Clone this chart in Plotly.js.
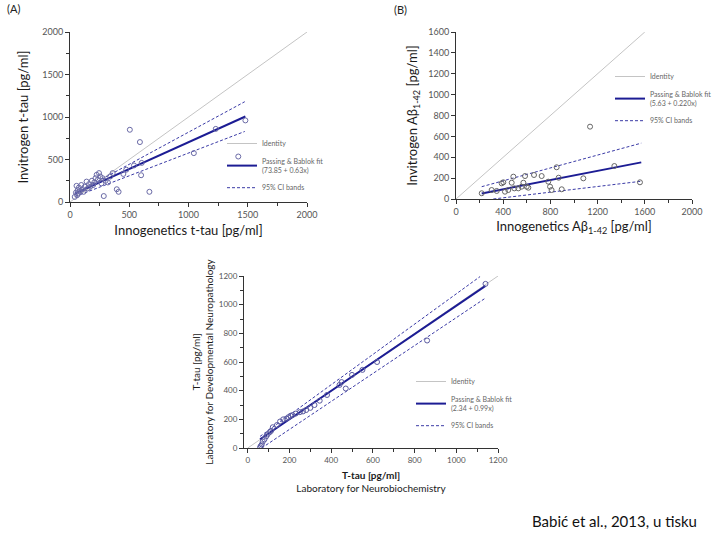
<!DOCTYPE html>
<html>
<head>
<meta charset="utf-8">
<script src="https://cdn.plot.ly/plotly-3.0.1.min.js"></script>
<style>html,body{margin:0;padding:0;background:#fff;}#chart{width:720px;height:540px;}</style>
</head>
<body>
<div id="chart"></div>
<script>
// ---------- Panel A: t-tau, Invitrogen vs Innogenetics ----------
const A_x = [40, 50, 55, 60, 65, 70, 75, 85, 95, 105, 115, 125, 140, 150, 160, 170, 185, 195, 205, 215, 225, 235, 245, 255, 265, 275, 285, 300, 320, 340, 360, 395, 410, 450, 475, 505, 540, 590, 600, 605, 670, 1045, 1230, 1420, 1480];
const A_y = [60, 110, 190, 80, 140, 100, 170, 130, 200, 150, 120, 180, 240, 160, 210, 180, 250, 200, 230, 280, 320, 260, 340, 300, 220, 280, 70, 250, 230, 300, 340, 150, 120, 330, 380, 850, 430, 705, 315, 460, 120, 575, 860, 535, 960];
const A_identity = [0, 2000];
const A_fitCoef = [73.85, 0.63];
const A_fitX = [40, 1480];
const A_ciX = [45, 1475];
const A_ciUp = [100, 1180];
const A_ciLo = [65, 830];
const A_fitLabel = "Passing & Bablok fit<br>(73.85 + 0.63x)";

// ---------- Panel B: Abeta1-42 ----------
const B_x = [218, 302, 345, 387, 401, 415, 443, 472, 486, 494, 528, 556, 571, 585, 599, 613, 661, 726, 782, 797, 810, 853, 870, 896, 1079, 1136, 1342, 1559];
const B_y = [55, 86, 77, 150, 160, 70, 86, 156, 214, 102, 102, 118, 156, 220, 118, 108, 230, 220, 166, 118, 86, 304, 204, 93, 198, 693, 316, 160];
const B_identity = [0, 1600];
const B_fitCoef = [5.63, 0.22];
const B_fitX = [218, 1570];
const B_ciUpX = [218, 1570];
const B_ciUp = [118, 535];
const B_ciLoX = [316, 1570];
const B_ciLo = [0, 170];
const B_fitLabel = "Passing & Bablok fit<br>(5.63 + 0.220x)";

// ---------- Panel C: T-tau, two laboratories ----------
const C_x = [59, 63, 67, 72, 80, 88, 95, 105, 112, 120, 140, 155, 170, 185, 195, 205, 215, 230, 250, 265, 280, 300, 320, 345, 380, 440, 450, 470, 500, 550, 620, 860, 1140];
const C_y = [5, 15, 25, 45, 60, 80, 95, 110, 120, 145, 160, 185, 200, 205, 215, 225, 230, 240, 250, 255, 265, 280, 300, 330, 370, 440, 460, 415, 510, 545, 600, 750, 1145];
const C_identity = [0, 1200];
const C_fitCoef = [2.34, 0.99];
const C_fitX = [59, 1140];
const C_ciUpX = [59, 1114];
const C_ciUp = [81, 1196];
const C_ciLoX = [67, 1140];
const C_ciLo = [0, 1046];
const C_fitLabel = "Passing & Bablok fit<br>(2.34 + 0.99x)";

const FONT = "Lato, 'Open Sans', sans-serif";
const fitColor = "#1c1c94";
const ciColor = "#3a3aa6";
const idColor = "#c4c4c4";

function fitY(xs, c) { return xs.map(x => c[0] + c[1] * x); }

function panel(ax, lg, pts, markerColor, identity, fitX, fitC, fitLabel, ciUpX, ciUp, ciLoX, ciLo) {
  const xa = ax.x, ya = ax.y;
  return [
    {x: identity, y: identity, xaxis: xa, yaxis: ya, mode: "lines", name: "Identity",
     line: {color: idColor, width: 1}, legend: lg, legendgroup: lg + "id", hoverinfo: "skip"},
    {x: fitX, y: fitY(fitX, fitC), xaxis: xa, yaxis: ya, mode: "lines", name: fitLabel,
     line: {color: fitColor, width: 2}, legend: lg, legendgroup: lg + "fit"},
    {x: ciUpX, y: ciUp, xaxis: xa, yaxis: ya, mode: "lines", name: "95% CI bands",
     line: {color: ciColor, width: 1, dash: "3px,2px"}, legend: lg, legendgroup: lg + "ci"},
    {x: ciLoX, y: ciLo, xaxis: xa, yaxis: ya, mode: "lines", showlegend: false,
     line: {color: ciColor, width: 1, dash: "3px,2px"}, legend: lg, legendgroup: lg + "ci"},
    {x: pts[0], y: pts[1], xaxis: xa, yaxis: ya, mode: "markers", showlegend: false,
     marker: {symbol: "circle-open", size: 5, color: markerColor, line: {width: 1}}}
  ];
}

const data = []
  .concat(panel({x: "x", y: "y"}, "legend", [A_x, A_y], "#6a6aa6", A_identity, A_fitX, A_fitCoef, A_fitLabel, A_ciX, A_ciUp, A_ciX, A_ciLo))
  .concat(panel({x: "x2", y: "y2"}, "legend2", [B_x, B_y], "#666666", B_identity, B_fitX, B_fitCoef, B_fitLabel, B_ciUpX, B_ciUp, B_ciLoX, B_ciLo))
  .concat(panel({x: "x3", y: "y3"}, "legend3", [C_x, C_y], "#5a5aa0", C_identity, C_fitX, C_fitCoef, C_fitLabel, C_ciUpX, C_ciUp, C_ciLoX, C_ciLo));

function axis(dom, range, dtick, minor, fs, title, tfs, standoff, extra) {
  return Object.assign({
    domain: dom, range: range, dtick: dtick, tick0: 0,
    showgrid: false, zeroline: false, showline: true, linecolor: "#333", linewidth: 1,
    ticks: "outside", ticklen: 4, tickcolor: "#333",
    minor: minor ? {dtick: minor, ticks: "outside", ticklen: 3, tickcolor: "#333", showgrid: false} : undefined,
    tickfont: {family: FONT, size: fs, color: "#555"},
    title: {text: title, font: {family: FONT, size: tfs, color: "#1a1a1a"}, standoff: standoff}
  }, extra || {});
}

function legendCfg(x, y, fs) {
  return {x: x, y: y, xanchor: "left", yanchor: "top", bgcolor: "rgba(0,0,0,0)",
    font: {family: FONT, size: fs, color: "#666"}, itemwidth: 30, tracegroupgap: 2,
    traceorder: "grouped"};
}

const layout = {
  width: 720, height: 540,
  margin: {l: 0, r: 0, t: 0, b: 0},
  paper_bgcolor: "#fff", plot_bgcolor: "#fff",
  font: {family: FONT},
  xaxis: axis([70/720, 307/720], [0, 2000], 500, 250, 9, "Innogenetics t-tau [pg/ml]", 13, 7, {anchor: "y"}),
  yaxis: axis([1 - 202/540, 1 - 32/540], [0, 2000], 500, 250, 9, "Invitrogen t-tau [pg/ml]", 13, 10, {anchor: "x"}),
  xaxis2: axis([456/720, 692/720], [0, 2000], 400, 200, 9, "Innogenetics Aβ<sub>1-42</sub> [pg/ml]", 13, 6, {anchor: "y2"}),
  yaxis2: axis([1 - 199/540, 1 - 32/540], [0, 1600], 200, null, 9, "Invitrogen Aβ<sub>1-42</sub> [pg/ml]", 13, 7, {anchor: "x2"}),
  xaxis3: axis([244/720, 498/720], [-18, 1200], 200, 100, 8, "<b>T-tau [pg/ml]</b><br>Laboratory for Neurobiochemistry", 10, 8, {anchor: "y3"}),
  yaxis3: axis([1 - 448/540, 1 - 276/540], [0, 1200], 200, 100, 8, "T-tau [pg/ml]<br>Laboratory for Developmental Neuropathology", 10, 3, {anchor: "x3"}),
  legend: legendCfg(222/720, 1 - 129/540, 7),
  legend2: legendCfg(610/720, 1 - 62/540, 7),
  legend3: legendCfg(411/720, 1 - 367/540, 7),
  annotations: [
    {text: "(A)", x: 5/720, y: 1 - 8/540, xref: "paper", yref: "paper", xanchor: "left", yanchor: "middle",
     showarrow: false, font: {family: FONT, size: 11, color: "#222"}},
    {text: "(B)", x: 392/720, y: 1 - 10/540, xref: "paper", yref: "paper", xanchor: "left", yanchor: "middle",
     showarrow: false, font: {family: FONT, size: 11, color: "#222"}},
    {text: "Babić et al., 2013, u tisku", x: 699/720, y: 1 - 521/540, xref: "paper", yref: "paper",
     xanchor: "right", yanchor: "middle", showarrow: false, font: {family: FONT, size: 15, color: "#111"}}
  ]
};

Plotly.newPlot("chart", data, layout, {staticPlot: true, displayModeBar: false});
</script>
</body>
</html>
